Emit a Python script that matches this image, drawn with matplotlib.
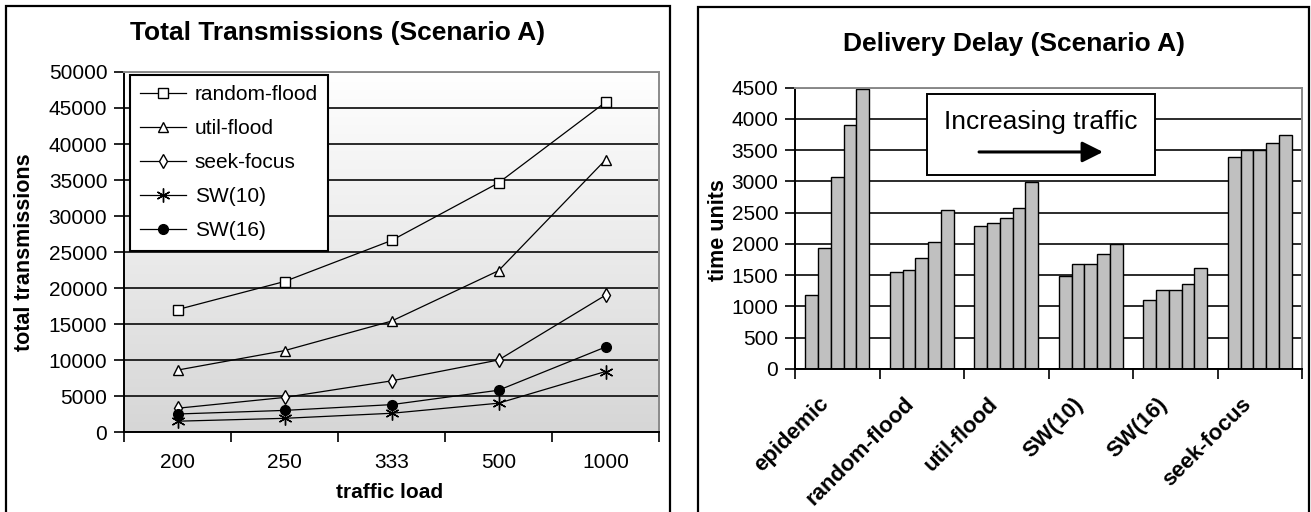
import matplotlib
matplotlib.use('Agg')
import matplotlib.pyplot as plt
import numpy as np
from matplotlib.patches import Rectangle
from matplotlib.colors import LinearSegmentedColormap
from matplotlib.transforms import ScaledTranslation

plt.rcParams['font.family'] = ['Liberation Sans', 'DejaVu Sans']

# ---------------- data: left chart ----------------
traffic_loads = ['200', '250', '333', '500', '1000']
random_flood = [17000, 20900, 26600, 34600, 45800]
util_flood = [8600, 11300, 15400, 22400, 37800]
seek_focus = [3300, 4800, 7100, 10000, 19000]
sw10 = [1500, 1900, 2600, 4000, 8400]
sw16 = [2500, 3000, 3800, 5800, 11800]

# ---------------- data: right chart ----------------
protocols = ['epidemic', 'random-flood', 'util-flood', 'SW(10)', 'SW(16)', 'seek-focus']
delay_epidemic = [1180, 1940, 3070, 3900, 4470]
delay_random_flood = [1550, 1580, 1770, 2030, 2540]
delay_util_flood = [2290, 2340, 2410, 2570, 2990]
delay_sw10 = [1480, 1680, 1680, 1840, 2000]
delay_sw16 = [1100, 1260, 1260, 1360, 1610]
delay_seek_focus = [3390, 3500, 3500, 3610, 3740]

W, H = 1311, 512
fig = plt.figure(figsize=(W / 100, H / 100), dpi=100)


def fx(px):
    return px / W


def fy(py):
    return 1 - py / H


# panel frames (chart areas, cut at the bottom)
for (x0, y0, x1) in [(6, 6, 670), (698, 7, 1309)]:
    fig.patches.append(Rectangle((fx(x0), fy(620)), fx(x1) - fx(x0), fy(y0) - fy(620),
                                 transform=fig.transFigure, fill=False, ec='black', lw=1.6))

# ================= left chart =================
ax1 = fig.add_axes([fx(124), fy(432), fx(659) - fx(124), fy(72) - fy(432)])
grad = LinearSegmentedColormap.from_list('g', ['#d6d6d6', '#ffffff'])
ax1.imshow(np.linspace(0, 1, 256).reshape(-1, 1), cmap=grad, origin='lower',
           extent=[0, 1, 0, 1], transform=ax1.transAxes, aspect='auto', zorder=0)

x = np.arange(len(traffic_loads))
series = [
    (random_flood, 'random-flood', dict(marker='s', ms=7, mfc='white')),
    (util_flood, 'util-flood', dict(marker='^', ms=7, mfc='white')),
    (seek_focus, 'seek-focus', dict(marker='d', ms=7, mfc='white')),
    (sw10, 'SW(10)', dict(marker=(6, 2, 0), ms=10)),
    (sw16, 'SW(16)', dict(marker='o', ms=7, mfc='black')),
]
for vals, lab, mk in series:
    ax1.plot(x, vals, color='black', lw=0.9, mec='black', mew=1.0, label=lab, zorder=3, **mk)

ax1.set_xlim(-0.5, 4.5)
ax1.set_ylim(0, 50000)
ax1.set_yticks(np.arange(0, 50001, 5000))
ax1.yaxis.grid(True, color='#1a1a1a', lw=1.3)
ax1.set_axisbelow(True)
ax1.set_xticks(np.arange(-0.5, 4.6, 1.0))
ax1.set_xticklabels([])
ax1.set_xticks(x, minor=True)
ax1.set_xticklabels(traffic_loads, minor=True)
ax1.tick_params(axis='x', which='major', direction='out', length=7, width=1.2)
ax1.tick_params(axis='x', which='minor', length=0, pad=15, labelsize=15)
ax1.tick_params(axis='y', direction='out', length=7, width=1.2, pad=5, labelsize=15)
for s in ['left', 'bottom']:
    ax1.spines[s].set_linewidth(1.4)
    ax1.spines[s].set_color('black')
for s in ['top', 'right']:
    ax1.spines[s].set_linewidth(1.4)
    ax1.spines[s].set_color('#8a8a8a')

ax1.set_xlabel('traffic load', fontsize=15, fontweight='bold')
ax1.xaxis.label.set_va('center')
ax1.xaxis.set_label_coords(0.497, (432 - 493) / 360)
ax1.set_ylabel('total transmissions', fontsize=15.5, fontweight='bold')
ax1.yaxis.label.set_va('center')
ax1.yaxis.set_label_coords((25 - 124) / 535, 0.5)

leg = ax1.legend(loc='upper left', bbox_to_anchor=(6 / 535, 1 - 3 / 360), borderaxespad=0,
                 fontsize=15, frameon=True, fancybox=False, edgecolor='black', framealpha=1,
                 handlelength=2.2, handletextpad=0.4, labelspacing=0.72, borderpad=0.5)
leg.get_frame().set_linewidth(1.5)

fig.text(fx(338), fy(33), 'Total Transmissions (Scenario A)', ha='center', va='center',
         fontsize=19, fontweight='bold')

# ================= right chart =================
ax2 = fig.add_axes([fx(795), fy(369), fx(1302) - fx(795), fy(87.5) - fy(369)])
delays = [delay_epidemic, delay_random_flood, delay_util_flood, delay_sw10, delay_sw16, delay_seek_focus]
cx = np.arange(len(protocols))
bw = 0.1515
for j in range(5):
    ax2.bar(cx + (j - 2) * bw, [d[j] for d in delays], width=bw, color='#c0c0c0',
            edgecolor='black', lw=1.0, zorder=2)

ax2.set_xlim(-0.5, 5.5)
ax2.set_ylim(0, 4500)
ax2.set_yticks(np.arange(0, 4501, 500))
ax2.yaxis.grid(True, color='#1a1a1a', lw=1.3)
ax2.set_axisbelow(True)
ax2.set_xticks(np.arange(-0.5, 5.6, 1.0))
ax2.set_xticklabels([])
ax2.set_xticks(cx, minor=True)
ax2.set_xticklabels(protocols, minor=True, rotation=45, ha='right', va='center',
                    rotation_mode='anchor', fontsize=16, fontweight='bold')
ax2.tick_params(axis='x', which='major', direction='out', length=7, width=1.2)
ax2.tick_params(axis='x', which='minor', length=0, pad=23)
ax2.tick_params(axis='y', direction='out', length=7, width=1.2, pad=5, labelsize=15)
for lbl in ax2.get_xticklabels(minor=True):
    lbl.set_transform(lbl.get_transform() + ScaledTranslation(-11 / 100, 0, fig.dpi_scale_trans))
for s in ['left', 'bottom']:
    ax2.spines[s].set_linewidth(1.4)
    ax2.spines[s].set_color('black')
for s in ['top', 'right']:
    ax2.spines[s].set_linewidth(1.4)
    ax2.spines[s].set_color('#8a8a8a')

ax2.set_ylabel('time units', fontsize=15.5, fontweight='bold')
ax2.yaxis.label.set_va('center')
ax2.yaxis.set_label_coords((718 - 795) / 507, 0.494)

# annotation box
ax2.add_patch(Rectangle((0.2604, 0.689), 0.710 - 0.2604, 0.977 - 0.689, transform=ax2.transAxes,
                        facecolor='white', edgecolor='black', lw=1.4, zorder=4))
ax2.text(0.485, 0.877, 'Increasing traffic', transform=ax2.transAxes, ha='center', va='center',
         fontsize=19, zorder=5)
ax2.annotate('', xy=(0.6075, 0.771), xytext=(0.363, 0.771), xycoords='axes fraction',
             arrowprops=dict(arrowstyle='-|>,head_length=0.9,head_width=0.45', lw=2.2,
                             color='black', shrinkA=0, shrinkB=0, mutation_scale=14),
             zorder=6)

fig.text(fx(1014), fy(44), 'Delivery Delay (Scenario A)', ha='center', va='center',
         fontsize=19, fontweight='bold')

fig.savefig('out.png', dpi=100)
